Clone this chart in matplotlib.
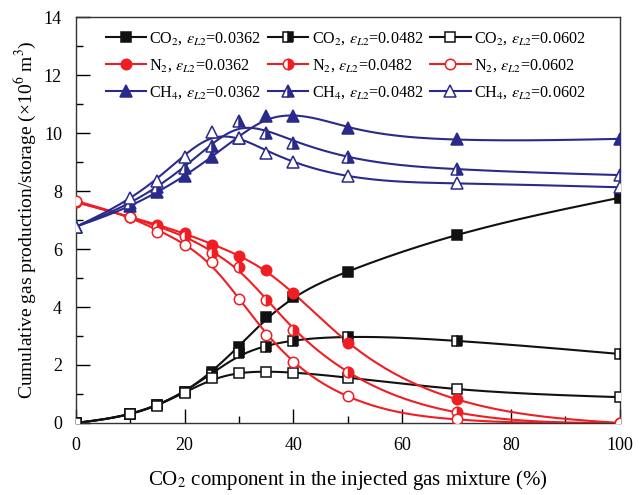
import numpy as np
import matplotlib
matplotlib.use("Agg")
import matplotlib.pyplot as plt
from matplotlib.lines import Line2D

plt.rcParams['font.family'] = ['Liberation Serif', 'DejaVu Serif']
plt.rcParams['mathtext.fontset'] = 'stix'

# ---------------- data ----------------
x_co2 = [0, 10, 15, 20, 25, 30, 35, 40, 50, 70, 100]
eps_labels = ['0.0362', '0.0482', '0.0602']

co2_0362 = [0.0, 0.31, 0.62, 1.08, 1.77, 2.62, 3.64, 4.33, 5.20, 6.48, 7.77]
co2_0482 = [0.0, 0.31, 0.62, 1.08, 1.66, 2.42, 2.63, 2.83, 2.96, 2.83, 2.38]
co2_0602 = [0.0, 0.31, 0.60, 1.02, 1.55, 1.73, 1.75, 1.73, 1.56, 1.17, 0.89]

n2_0362 = [7.62, 7.10, 6.83, 6.54, 6.14, 5.76, 5.28, 4.47, 2.75, 0.82, 0.0]
n2_0482 = [7.62, 7.10, 6.75, 6.45, 5.85, 5.39, 4.24, 3.20, 1.77, 0.37, 0.0]
n2_0602 = [7.66, 7.09, 6.60, 6.14, 5.56, 4.26, 3.03, 2.10, 0.93, 0.13, 0.0]

ch4_0362 = [6.77, 7.48, 7.98, 8.52, 9.16, 9.82, 10.60, 10.60, 10.16, 9.78, 9.80]
ch4_0482 = [6.77, 7.60, 8.15, 8.78, 9.55, 10.42, 10.01, 9.67, 9.18, 8.76, 8.55]
ch4_0602 = [6.77, 7.75, 8.36, 9.18, 10.05, 9.82, 9.30, 9.00, 8.52, 8.27, 8.13]


def smooth_curve(x, y, lam=30.0, step=0.5):
    """Smoothing-spline-like curve (Whittaker smoother on a fine grid) for the drawn line."""
    x = np.asarray(x, float)
    y = np.asarray(y, float)
    xs = np.arange(x[0], x[-1] + step / 2, step)
    n = len(xs)
    W = np.zeros(n)
    z = np.zeros(n)
    idx = np.rint((x - x[0]) / step).astype(int)
    w = np.ones(len(x))
    w[0] = w[-1] = 20.0
    W[idx] = w
    z[idx] = y
    D = np.diff(np.eye(n), 2, axis=0)
    A = np.diag(W) + (lam / step ** 3) * D.T @ D
    f = np.linalg.solve(A, W * z)
    return xs, f


fig = plt.figure(figsize=(6.43, 4.95), dpi=100)
ax = fig.add_axes([0.118, 0.1455, 0.846, 0.820])

black = '#111111'
red = '#f01e23'
blue = '#2a2a8c'

series = [
    ('CO$_2$', black, 's', 6.5, co2_0362, co2_0482, co2_0602),
    ('N$_2$', red, 'o', 7.5, n2_0362, n2_0482, n2_0602),
    ('CH$_4$', blue, '^', 8.5, ch4_0362, ch4_0482, ch4_0602),
]
fills = ['full', 'right', 'none']

handles = {}
for name, col, mk, ms, *vals in series:
    for k, v in enumerate(vals):
        xs, ys = smooth_curve(x_co2, v)
        ax.plot(xs, ys, color=col, lw=1.5, zorder=2)
        fs = fills[k]
        kw = dict(marker=mk, ms=ms, mec=col, mew=1.1, ls='none', zorder=3)
        if fs == 'full':
            kw.update(mfc=col)
        elif fs == 'right':
            kw.update(mfc=col, fillstyle='right', markerfacecoloralt='white')
        else:
            kw.update(mfc='white')
        ax.plot(x_co2, v, **kw)
        lab = name + r', $\varepsilon_{L2}$=' + eps_labels[k]
        handles[(name, k)] = Line2D([], [], color=col, lw=1.5, label=lab,
                                    **{kk: vv for kk, vv in kw.items() if kk not in ('ls', 'zorder')})

order = []
for k in range(3):
    for name, *_ in series:
        order.append(handles[(name, k)])

leg = ax.legend(handles=order, ncol=3, loc='upper left', bbox_to_anchor=(0.03, 1.0),
                frameon=False, fontsize=11.6, handlelength=2.5, handletextpad=0.2,
                columnspacing=0.45, labelspacing=0.62, borderaxespad=0.45)

ax.set_xlim(0, 100)
ax.set_ylim(0, 14)
ax.set_xticks(np.arange(0, 101, 20))
ax.set_xticks(np.arange(10, 100, 20), minor=True)
ax.set_yticks(np.arange(0, 15, 2))
ax.set_yticks(np.arange(1, 14, 2), minor=True)
ax.tick_params(which='both', direction='in', labelsize=13, top=False, right=False)
ax.tick_params(which='major', length=10, width=1.0, pad=10)
ax.tick_params(which='minor', length=5, width=1.0)
for s in ax.spines.values():
    s.set_linewidth(1.0)
    s.set_color('#333333')

ax.set_xlabel('CO$_2$ component in the injected gas mixture (%)', fontsize=15, labelpad=10)
ax.set_ylabel('Cumulative gas production/storage (×10$^6$ m$^3$)', fontsize=14, labelpad=4)

fig.savefig('out.png', dpi=100)
